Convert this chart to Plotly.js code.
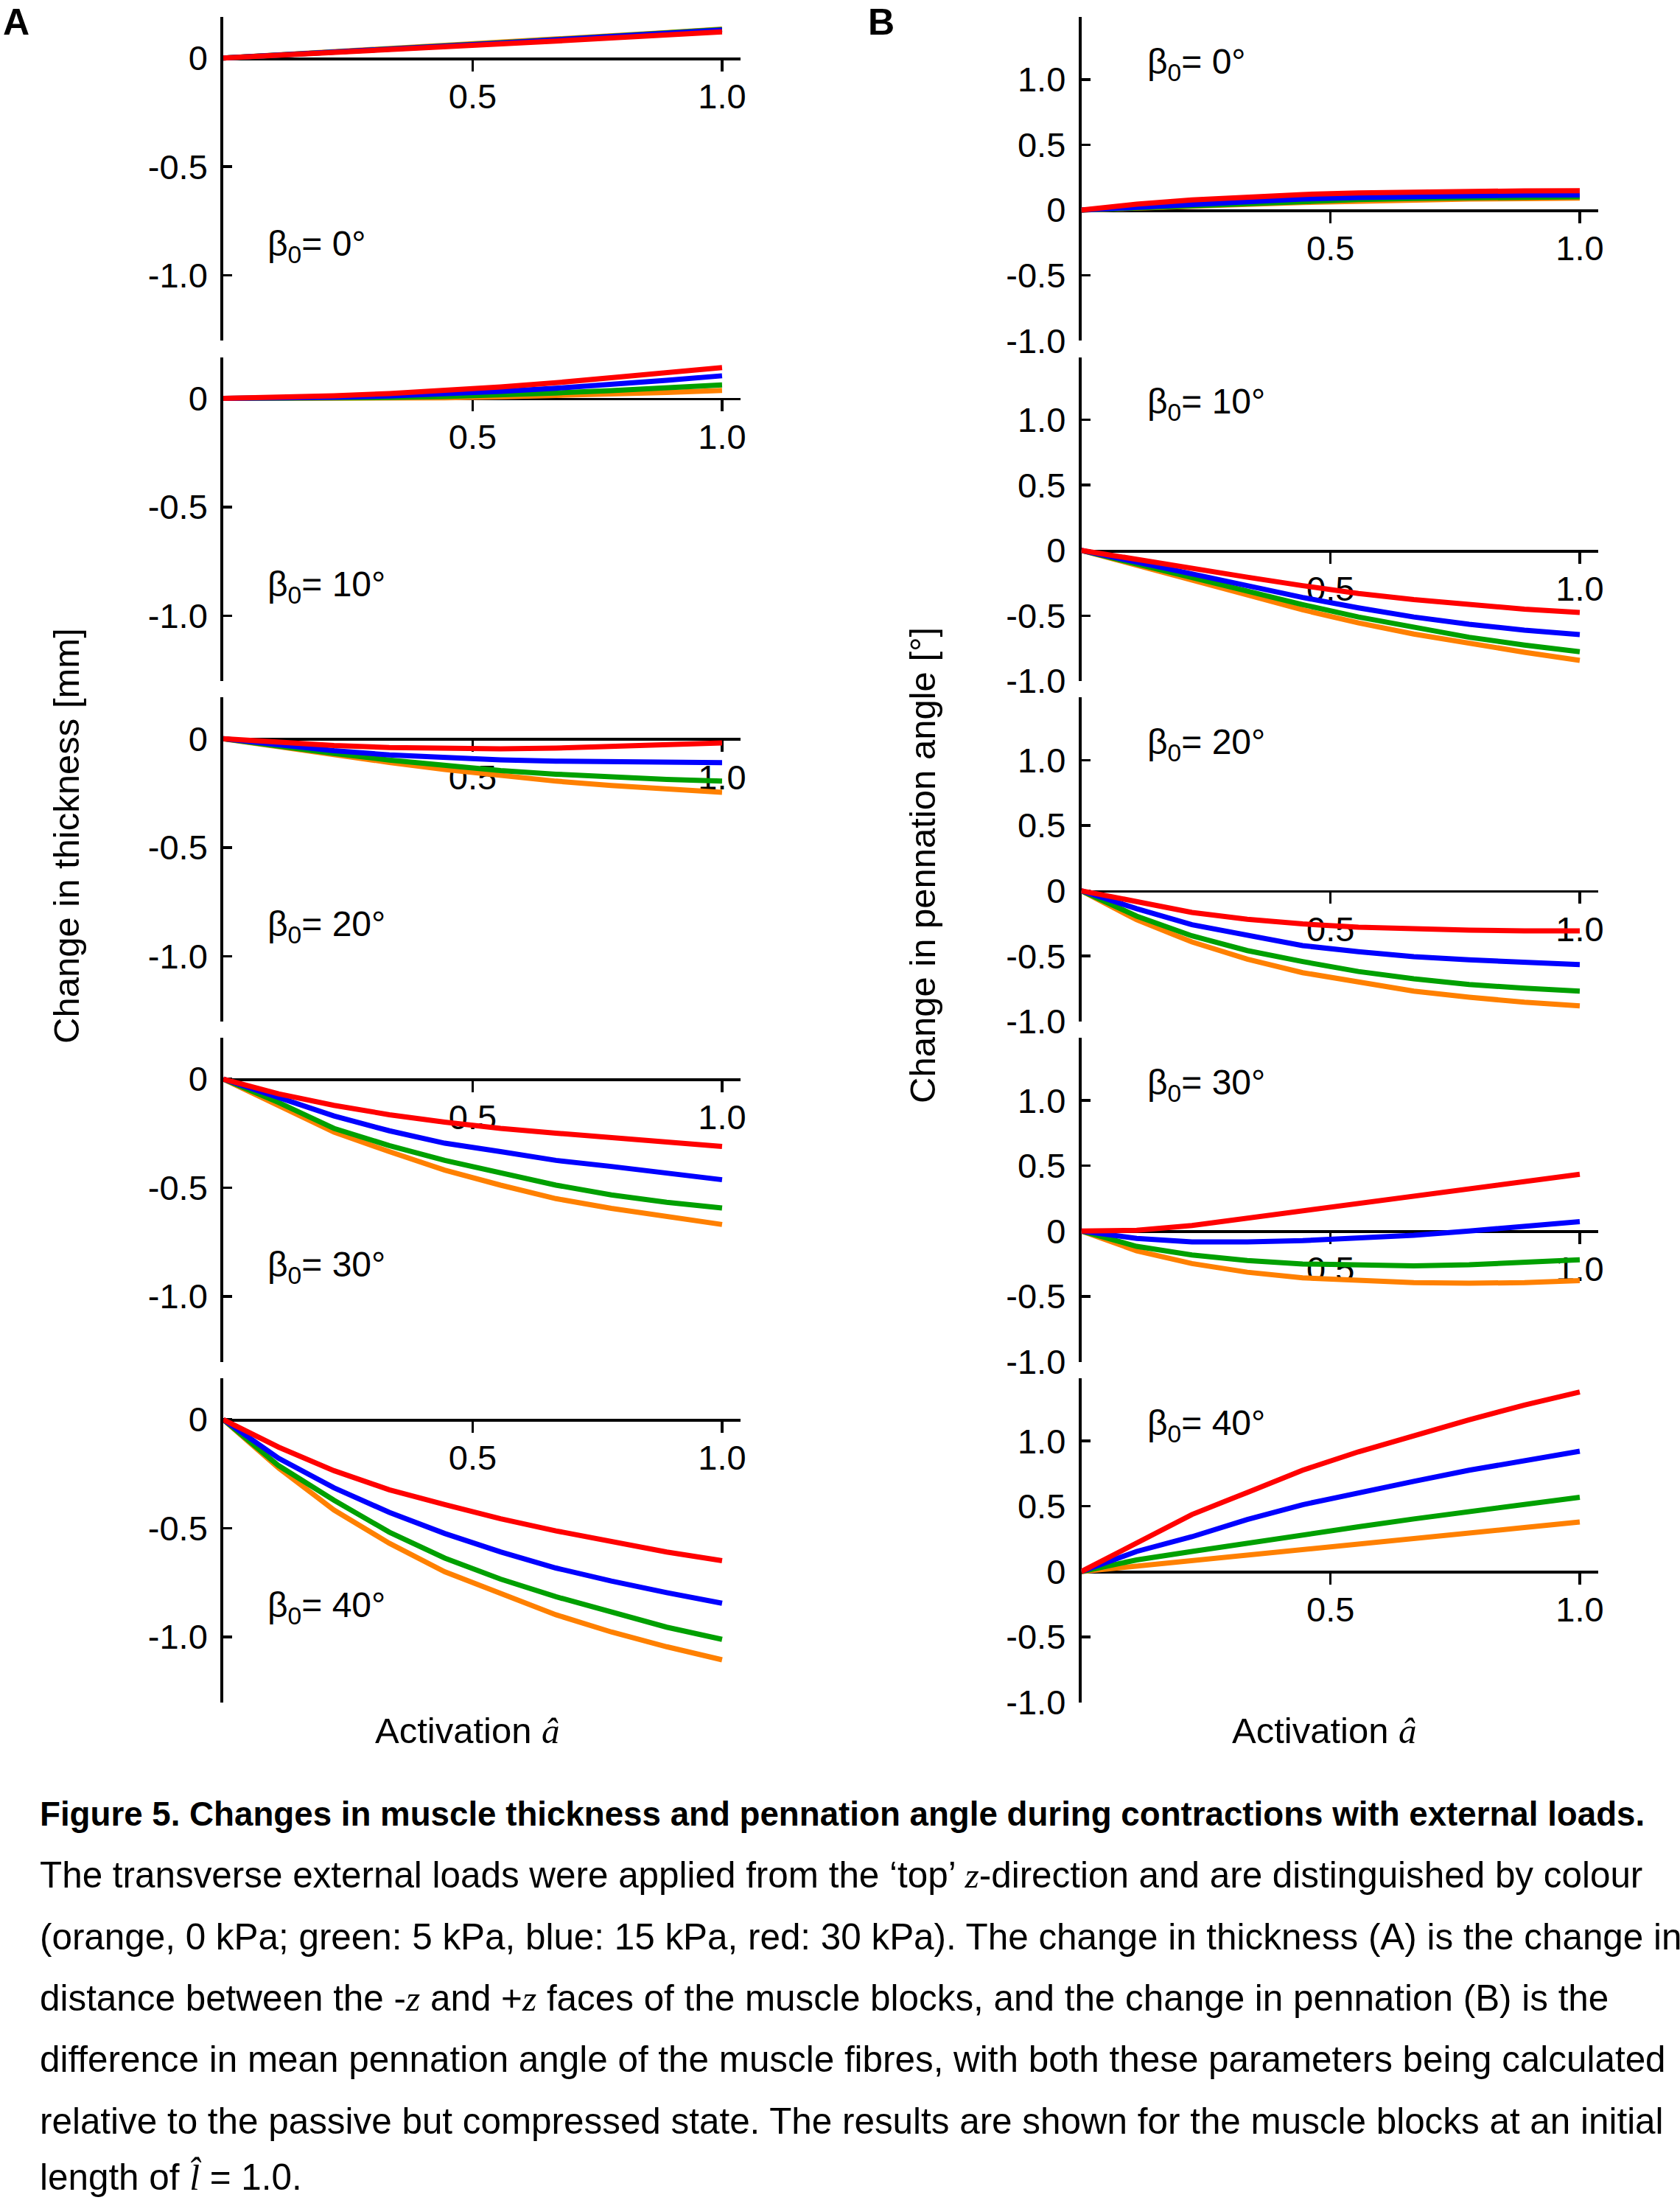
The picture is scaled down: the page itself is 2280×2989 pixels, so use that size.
<!DOCTYPE html>
<html>
<head>
<meta charset="utf-8">
<script src="https://cdn.plot.ly/plotly-3.0.1.min.js"></script>
<style>html,body{margin:0;padding:0;background:#fff;}#chart{width:2280px;height:2989px;}</style>
</head>
<body>
<div id="chart"></div>
<script>
// ---------------- DATA ----------------
const activation = [0, 0.111, 0.222, 0.333, 0.444, 0.556, 0.667, 0.778, 0.889, 1.0];
const beta0Labels = ["0°", "10°", "20°", "30°", "40°"];
const loadNames = ["0 kPa", "5 kPa", "15 kPa", "30 kPa"];
const loadColors = ["#FF8000", "#00A000", "#0000FF", "#FF0000"];

// Panel A: change in thickness [mm], one row per beta0
const thickness_0kPa = [
  [0, 0.014, 0.028, 0.042, 0.057, 0.071, 0.086, 0.101, 0.117, 0.133],
  [0, 0.000, 0.000, 0.001, 0.003, 0.007, 0.013, 0.019, 0.027, 0.037],
  [0, -0.037, -0.074, -0.109, -0.141, -0.170, -0.195, -0.215, -0.232, -0.246],
  [0, -0.119, -0.244, -0.334, -0.419, -0.488, -0.550, -0.595, -0.635, -0.669],
  [0, -0.223, -0.416, -0.569, -0.700, -0.802, -0.898, -0.977, -1.045, -1.105]
];
const thickness_5kPa = [
  [0, 0.013, 0.027, 0.041, 0.056, 0.070, 0.085, 0.100, 0.115, 0.131],
  [0, 0.000, 0.001, 0.004, 0.009, 0.016, 0.025, 0.036, 0.048, 0.062],
  [0, -0.035, -0.068, -0.098, -0.124, -0.146, -0.163, -0.177, -0.187, -0.195],
  [0, -0.108, -0.227, -0.306, -0.374, -0.433, -0.488, -0.533, -0.567, -0.593],
  [0, -0.212, -0.371, -0.518, -0.637, -0.734, -0.815, -0.887, -0.955, -1.011]
];
const thickness_15kPa = [
  [0, 0.013, 0.027, 0.041, 0.055, 0.069, 0.084, 0.099, 0.114, 0.129],
  [0, 0.001, 0.005, 0.011, 0.020, 0.032, 0.047, 0.064, 0.083, 0.104],
  [0, -0.030, -0.055, -0.074, -0.088, -0.097, -0.103, -0.107, -0.109, -0.110],
  [0, -0.085, -0.170, -0.238, -0.295, -0.334, -0.374, -0.402, -0.434, -0.463],
  [0, -0.178, -0.314, -0.427, -0.524, -0.609, -0.683, -0.743, -0.796, -0.845]
];
const thickness_30kPa = [
  [0, 0.012, 0.025, 0.038, 0.051, 0.065, 0.078, 0.092, 0.106, 0.120],
  [0, 0.004, 0.012, 0.022, 0.036, 0.053, 0.072, 0.094, 0.117, 0.142],
  [0, -0.018, -0.031, -0.040, -0.045, -0.046, -0.043, -0.036, -0.028, -0.019],
  [0, -0.068, -0.121, -0.164, -0.198, -0.227, -0.249, -0.269, -0.289, -0.310],
  [0, -0.127, -0.235, -0.323, -0.391, -0.456, -0.512, -0.563, -0.609, -0.649]
];

// Panel B: change in pennation angle [deg], one row per beta0
const pennation_0kPa = [
  [0, 0.012, 0.028, 0.044, 0.058, 0.069, 0.078, 0.084, 0.088, 0.091],
  [0, -0.110, -0.225, -0.340, -0.455, -0.555, -0.640, -0.715, -0.780, -0.842],
  [0, -0.222, -0.392, -0.524, -0.627, -0.702, -0.768, -0.815, -0.853, -0.881],
  [0, -0.151, -0.249, -0.315, -0.358, -0.380, -0.395, -0.399, -0.395, -0.380],
  [0, 0.041, 0.083, 0.126, 0.164, 0.207, 0.252, 0.296, 0.337, 0.380]
];
const pennation_5kPa = [
  [0, 0.016, 0.036, 0.054, 0.068, 0.080, 0.089, 0.095, 0.099, 0.101],
  [0, -0.105, -0.210, -0.315, -0.415, -0.510, -0.590, -0.665, -0.725, -0.776],
  [0, -0.194, -0.345, -0.458, -0.542, -0.618, -0.674, -0.718, -0.746, -0.768],
  [0, -0.117, -0.183, -0.226, -0.252, -0.264, -0.267, -0.258, -0.239, -0.220],
  [0, 0.089, 0.154, 0.220, 0.282, 0.343, 0.403, 0.460, 0.516, 0.569]
];
const pennation_15kPa = [
  [0, 0.022, 0.047, 0.068, 0.084, 0.096, 0.105, 0.110, 0.114, 0.116],
  [0, -0.090, -0.180, -0.270, -0.360, -0.440, -0.510, -0.565, -0.610, -0.644],
  [0, -0.137, -0.260, -0.345, -0.420, -0.467, -0.505, -0.529, -0.548, -0.565],
  [0, -0.056, -0.083, -0.083, -0.073, -0.056, -0.032, 0.000, 0.034, 0.072],
  [0, 0.154, 0.267, 0.399, 0.512, 0.606, 0.691, 0.776, 0.851, 0.921]
];
const pennation_30kPa = [
  [0, 0.045, 0.078, 0.102, 0.119, 0.131, 0.139, 0.144, 0.147, 0.148],
  [0, -0.070, -0.138, -0.205, -0.270, -0.330, -0.377, -0.418, -0.450, -0.475],
  [0, -0.081, -0.166, -0.218, -0.254, -0.279, -0.294, -0.301, -0.307, -0.307],
  [0, 0.006, 0.043, 0.100, 0.156, 0.212, 0.269, 0.326, 0.382, 0.435],
  [0, 0.220, 0.437, 0.606, 0.776, 0.917, 1.040, 1.162, 1.275, 1.375]
];

const xTickVals = [0.5, 1.0];
const xTickText = ["0.5", "1.0"];
const yTickValsA = [0, -0.5, -1.0];
const yTickTextA = ["0", "-0.5", "-1.0"];
const yTickValsB = [1.0, 0.5, 0, -0.5, -1.0];
const yTickTextB = ["1.0", "0.5", "0", "-0.5", "-1.0"];

const SERIF = "font-family:'Liberation Serif','Times New Roman',serif";
const captionLines = [
  "<b>Figure 5. Changes in muscle thickness and pennation angle during contractions with external loads.</b>",
  "The transverse external loads were applied from the ‘top’ <span style=\"" + SERIF + "\"><i>z</i></span>-direction and are distinguished by colour",
  "(orange, 0 kPa; green: 5 kPa, blue: 15 kPa, red: 30 kPa). The change in thickness (A) is the change in",
  "distance between the -<span style=\"" + SERIF + "\"><i>z</i></span> and +<span style=\"" + SERIF + "\"><i>z</i></span> faces of the muscle blocks, and the change in pennation (B) is the",
  "difference in mean pennation angle of the muscle fibres, with both these parameters being calculated",
  "relative to the passive but compressed state. The results are shown for the muscle blocks at an initial",
  "length of <span style=\"" + SERIF + "\"><i>l̂</i></span> = 1.0."
];

// ---------------- LAYOUT ----------------
const W = 2280, H = 2989;
const FONT = "Liberation Sans, Arial, sans-serif";
const rowTopPx = [22.7, 484.5, 946.3, 1408, 1870];
const rowHPx = 439.5;
const xDom = [[303 / W, 1005 / W], [1467.5 / W, 2169 / W]];
const yRanges = [[-1.30, 0.19], [-1.0, 1.48]];
const xRange = [0, 1.037];
const panelData = [
  [thickness_0kPa, thickness_5kPa, thickness_15kPa, thickness_30kPa],
  [pennation_0kPa, pennation_5kPa, pennation_15kPa, pennation_30kPa]
];

const traces = [];
const layout = {
  width: W, height: H,
  margin: {l: 0, r: 0, t: 0, b: 0},
  paper_bgcolor: "#fff", plot_bgcolor: "rgba(0,0,0,0)",
  showlegend: false,
  font: {family: FONT, color: "#000", size: 46},
  annotations: []
};

for (let p = 0; p < 2; p++) {
  for (let r = 0; r < 5; r++) {
    const n = p * 5 + r + 1;
    const xa = "x" + n, ya = "y" + n;
    const yTop = 1 - rowTopPx[r] / H;
    const yBot = 1 - (rowTopPx[r] + rowHPx) / H;
    const yr = yRanges[p];
    const zeroPos = yBot + (0 - yr[0]) / (yr[1] - yr[0]) * (yTop - yBot);
    layout["xaxis" + n] = {
      domain: xDom[p], range: xRange, anchor: "free", position: zeroPos,
      showline: true, linecolor: "#000", linewidth: 3.8,
      ticks: "outside", ticklen: 15, tickwidth: 3.5, tickcolor: "#000",
      tickmode: "array", tickvals: xTickVals, ticktext: xTickText,
      tickfont: {family: FONT, size: 47, color: "#000"},
      ticklabelstandoff: -6,
      showgrid: false, zeroline: false, layer: "below traces", fixedrange: true
    };
    layout["yaxis" + n] = {
      domain: [yBot, yTop], range: yr, anchor: xa,
      showline: true, linecolor: "#000", linewidth: 3.8,
      ticks: "inside", ticklen: 12, tickwidth: 3.5, tickcolor: "#000",
      tickmode: "array",
      tickvals: p === 0 ? yTickValsA : yTickValsB,
      ticktext: p === 0 ? yTickTextA : yTickTextB,
      tickfont: {family: FONT, size: 47, color: "#000"},
      ticklabelstandoff: 8,
      showgrid: false, zeroline: false, layer: "below traces", fixedrange: true
    };
    for (let s = 0; s < 4; s++) {
      traces.push({
        type: "scatter", mode: "lines",
        x: activation, y: panelData[p][s][r],
        xaxis: xa, yaxis: ya,
        name: loadNames[s],
        line: {color: loadColors[s], width: 7},
        hoverinfo: "skip"
      });
    }
    layout.annotations.push({
      xref: xa, yref: ya,
      x: p === 0 ? 0.085 : 0.13, y: p === 0 ? -0.865 : 1.12,
      xanchor: "left", yanchor: "middle", showarrow: false,
      text: "β<sub>0</sub>= " + beta0Labels[r],
      font: {family: FONT, size: 48, color: "#000"}
    });
  }
}

// panel letters
layout.annotations.push({xref: "paper", yref: "paper", x: 2 / W, y: 1, xanchor: "left", yanchor: "top",
  showarrow: false, text: "<b>A</b>", font: {family: FONT, size: 50, color: "#000"}});
layout.annotations.push({xref: "paper", yref: "paper", x: 1176 / W, y: 1, xanchor: "left", yanchor: "top",
  showarrow: false, text: "<b>B</b>", font: {family: FONT, size: 50, color: "#000"}});

// y-axis titles
layout.annotations.push({xref: "paper", yref: "paper", x: 90 / W, y: 1 - 1134 / H, xanchor: "center", yanchor: "middle",
  showarrow: false, textangle: -90, text: "Change in thickness [mm]", font: {family: FONT, size: 49, color: "#000"}});
layout.annotations.push({xref: "paper", yref: "paper", x: 1252 / W, y: 1 - 1174 / H, xanchor: "center", yanchor: "middle",
  showarrow: false, textangle: -90, text: "Change in pennation angle [°]", font: {family: FONT, size: 49, color: "#000"}});

// x-axis titles
const actText = "Activation <span style=\"" + SERIF + "\"><i>â</i></span>";
layout.annotations.push({xref: "paper", yref: "paper", x: 634 / W, y: 1 - 2348 / H, xanchor: "center", yanchor: "middle",
  showarrow: false, text: actText, font: {family: FONT, size: 49, color: "#000"}});
layout.annotations.push({xref: "paper", yref: "paper", x: 1797 / W, y: 1 - 2348 / H, xanchor: "center", yanchor: "middle",
  showarrow: false, text: actText, font: {family: FONT, size: 49, color: "#000"}});

// caption
captionLines.forEach((t, i) => {
  layout.annotations.push({xref: "paper", yref: "paper", x: 52 / W, y: 1 - Math.min(2461 + 83.2 * i, 2954) / H,
    xanchor: "left", yanchor: "middle", align: "left", showarrow: false, text: t,
    font: {family: FONT, size: i === 0 ? 45.7 : 49.4, color: "#000"}});
});

Plotly.newPlot("chart", traces, layout, {staticPlot: true, displayModeBar: false});
</script>
</body>
</html>
